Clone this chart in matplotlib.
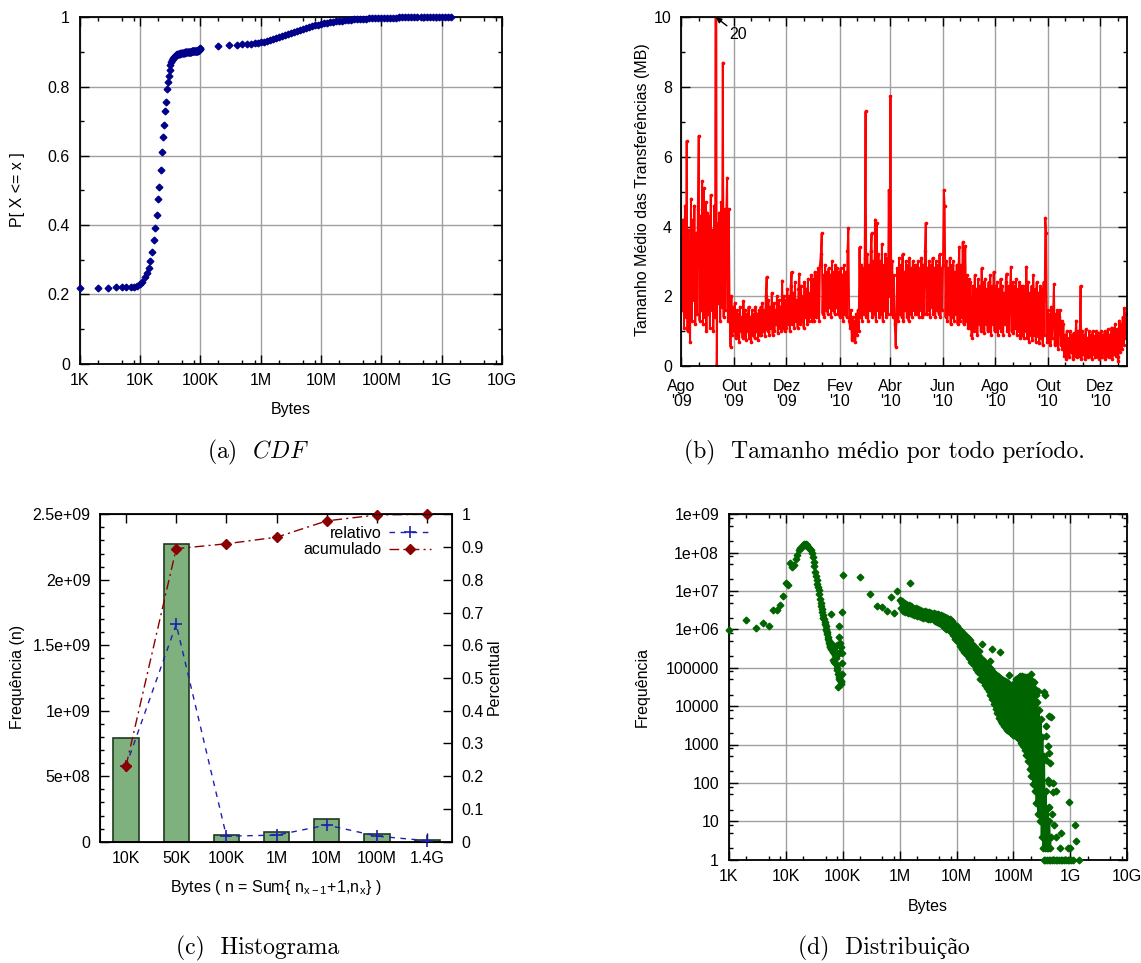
import numpy as np
import pandas as pd
import matplotlib
matplotlib.use('Agg')
import matplotlib.pyplot as plt
import matplotlib.dates as mdates
from matplotlib.ticker import LogLocator, MultipleLocator, NullFormatter, FixedLocator
from datetime import date

# ---------------- (a) CDF ----------------
cdf_kb = list(range(1, 101))          # bins de 1K em 1K ate 100K
cdf_ate_100k = [
    0.219, 0.219, 0.219, 0.220, 0.220, 0.221, 0.221, 0.222, 0.224, 0.229,
    0.236, 0.250, 0.262, 0.276, 0.295, 0.322, 0.356, 0.391, 0.428, 0.475,
    0.511, 0.560, 0.611, 0.653, 0.689, 0.728, 0.755, 0.792, 0.814, 0.831,
    0.849, 0.862, 0.870, 0.876, 0.880, 0.883, 0.886, 0.888, 0.890, 0.891,
    0.892, 0.893, 0.894, 0.894, 0.895, 0.895, 0.896, 0.896, 0.897, 0.897,
    0.897, 0.898, 0.898, 0.898, 0.898, 0.899, 0.899, 0.899, 0.899, 0.899,
    0.900, 0.900, 0.900, 0.900, 0.901, 0.901, 0.901, 0.901, 0.901, 0.901,
    0.901, 0.902, 0.902, 0.902, 0.902, 0.902, 0.902, 0.902, 0.903, 0.903,
    0.903, 0.903, 0.903, 0.903, 0.903, 0.903, 0.904, 0.904, 0.904, 0.904,
    0.904, 0.905, 0.905, 0.905, 0.905, 0.906, 0.906, 0.907, 0.908, 0.912,
]
cdf_meio_bytes = [2e5, 3e5, 4e5, 5e5, 6e5, 7e5, 8e5, 9e5]
cdf_meio = [0.918, 0.920, 0.921, 0.922, 0.923, 0.924, 0.925, 0.926]
cdf_alto_log = [
    6.00, 6.05, 6.10, 6.15, 6.20, 6.25, 6.30, 6.35, 6.40, 6.45,
    6.50, 6.55, 6.60, 6.65, 6.70, 6.75, 6.80, 6.85, 6.90, 6.95,
    7.00, 7.05, 7.10, 7.15, 7.20, 7.25, 7.30, 7.35, 7.40, 7.45,
    7.50, 7.55, 7.60, 7.65, 7.70, 7.75, 7.80, 7.85, 7.90, 7.95,
    8.00, 8.05, 8.10, 8.15, 8.20, 8.25, 8.30, 8.35, 8.40, 8.45,
    8.50, 8.55, 8.60, 8.65, 8.70, 8.75, 8.80, 8.85, 8.90, 8.95,
    9.00, 9.05, 9.10, 9.15,
]
cdf_alto = [
    0.929, 0.930, 0.932, 0.935, 0.938, 0.940, 0.942, 0.945, 0.948, 0.951,
    0.954, 0.957, 0.960, 0.963, 0.966, 0.969, 0.972, 0.975, 0.977, 0.979,
    0.981, 0.983, 0.984, 0.986, 0.987, 0.988, 0.989, 0.990, 0.991, 0.992,
    0.993, 0.994, 0.995, 0.995, 0.996, 0.996, 0.997, 0.997, 0.998, 0.998,
    0.998, 0.999, 0.999, 0.999, 0.999, 0.999, 1.000, 1.000, 1.000, 1.000,
    1.000, 1.000, 1.000, 1.000, 1.000, 1.000, 1.000, 1.000, 1.000, 1.000,
    1.000, 1.000, 1.000, 1.000,
]

# ---------------- (b) tamanho medio diario (MB) ----------------
ago09 = [3.7, 1.6, 4.2, 1.1, 4.6, 1.4, 6.45, 1.0, 3.9, 1.5, 0.7, 4.8, 1.3, 4.2, 1.9, 4.6,
         1.2, 3.8, 1.5, 4.5, 6.6, 1.3, 4.3, 1.6, 5.3, 1.2, 5.1, 1.4, 4.7, 1.0, 4.4]
set09 = [1.5, 4.3, 1.1, 4.9, 1.6, 3.9, 1.0, 4.6, 1.4, 20.0, 0.0, 4.1, 1.8, 4.4, 1.3,
         4.7, 1.7, 8.7, 1.4, 4.5, 1.6, 4.3, 5.4, 1.3, 4.5, 1.5, 0.55, 2.0, 0.9, 1.7]
out09 = [1.0, 1.8, 0.8, 1.6, 0.9, 1.5, 0.7, 1.7, 1.0, 1.4, 0.8, 1.85, 0.9, 1.6, 0.75, 1.5,
         1.0, 1.7, 0.8, 1.4, 0.7, 1.6, 0.9, 1.5, 0.8, 1.7, 1.0, 1.5, 0.75, 1.6, 0.9]
nov09 = [1.7, 0.9, 1.8, 1.0, 1.6, 0.85, 2.0, 2.55, 1.0, 1.9, 0.9, 1.7, 1.1, 2.1, 0.9,
         1.8, 1.0, 1.6, 1.2, 2.0, 0.95, 1.9, 1.1, 1.7, 1.0, 2.45, 1.1, 2.0, 1.0, 1.9]
dez09 = [1.1, 2.2, 1.2, 2.0, 1.0, 2.3, 2.7, 1.2, 2.1, 1.1, 2.4, 1.3, 1.9, 1.1, 2.2, 2.65,
         1.2, 2.3, 1.3, 2.0, 1.1, 2.4, 1.4, 2.2, 1.2, 2.5, 1.3, 2.1, 1.4, 2.6, 1.3]
jan10 = [2.5, 1.3, 2.7, 1.4, 2.6, 1.5, 2.8, 1.3, 2.9, 3.2, 3.8, 1.5, 2.6, 1.4, 2.9, 1.6,
         2.7, 1.5, 2.8, 1.7, 2.6, 1.4, 3.0, 1.6, 2.7, 1.5, 2.9, 1.7, 2.8, 1.5, 2.7]
fev10 = [1.4, 2.8, 1.5, 2.6, 1.3, 2.9, 1.5, 2.7, 1.4, 3.3, 3.95, 1.3, 1.1, 1.6, 0.75,
         1.4, 0.8, 1.3, 0.7, 1.5, 0.9, 1.6, 1.0, 3.4, 1.4, 2.9, 1.3, 2.8]
mar10 = [1.5, 3.1, 7.3, 1.4, 3.2, 1.3, 2.9, 1.6, 3.3, 3.8, 1.4, 3.0, 1.5, 4.2, 1.3, 4.1,
         1.6, 3.2, 1.4, 3.0, 1.5, 3.5, 1.3, 2.9, 1.6, 3.2, 1.4, 3.1, 1.5, 5.05, 2.0]
abr10 = [7.75, 1.5, 3.0, 1.4, 2.6, 1.2, 0.55, 1.4, 2.8, 1.3, 3.1, 1.5, 2.9, 1.4, 3.2,
         1.3, 2.7, 1.6, 3.0, 1.4, 2.9, 1.3, 3.1, 1.5, 2.8, 1.4, 3.0, 1.6, 2.9, 1.5]
mai10 = [2.9, 1.5, 3.0, 1.4, 2.8, 1.6, 3.1, 1.4, 2.9, 1.5, 3.3, 4.1, 1.5, 2.8, 1.6, 3.0,
         1.4, 2.9, 1.7, 3.1, 1.5, 2.8, 1.4, 3.0, 1.6, 2.9, 1.5, 3.2, 1.4, 2.8, 1.6]
jun10 = [2.9, 5.05, 4.6, 1.4, 3.0, 1.3, 2.8, 1.5, 3.1, 1.2, 2.9, 1.4, 3.0, 1.3, 2.7,
         1.5, 2.9, 1.2, 2.8, 3.4, 1.3, 2.9, 1.4, 3.55, 1.2, 2.8, 3.45, 1.3, 2.6, 1.1]
jul10 = [2.5, 1.1, 2.4, 0.9, 0.8, 2.3, 1.0, 2.6, 1.1, 2.2, 0.9, 2.5, 1.2, 2.3, 1.0, 2.8,
         1.1, 2.4, 0.95, 2.5, 1.2, 2.2, 1.0, 2.4, 1.1, 2.6, 0.9, 2.3, 1.2, 2.7, 1.0]
ago10 = [2.3, 1.0, 2.4, 0.9, 2.2, 1.1, 2.5, 1.0, 2.3, 0.9, 2.1, 1.2, 2.4, 2.65, 1.0, 2.3,
         0.9, 2.2, 2.85, 1.0, 2.4, 0.95, 2.3, 1.1, 2.5, 0.9, 2.2, 1.0, 2.4, 0.8, 2.3]
set10 = [0.9, 2.3, 0.8, 2.2, 1.0, 2.85, 0.8, 2.4, 0.7, 2.1, 0.9, 2.3, 0.75, 2.6, 0.9,
         2.2, 0.7, 2.4, 0.85, 2.1, 0.65, 2.3, 0.8, 2.2, 0.6, 2.4, 0.9, 4.25, 3.8, 0.7]
out10 = [1.6, 0.7, 1.5, 0.6, 1.7, 0.8, 1.4, 2.35, 0.6, 1.5, 0.7, 1.6, 0.5, 1.4, 1.6, 0.6,
         1.3, 0.5, 1.2, 0.3, 0.9, 0.2, 1.0, 0.3, 0.8, 0.25, 1.0, 0.4, 0.9, 0.2, 0.95]
nov10 = [0.3, 0.9, 1.3, 0.25, 1.0, 0.3, 0.9, 2.3, 0.2, 1.0, 0.35, 0.9, 0.2, 1.05, 0.3,
         0.8, 0.25, 1.0, 0.3, 0.9, 0.2, 1.0, 0.35, 0.85, 0.25, 1.0, 0.3, 0.95, 0.2, 0.9]
dez10 = [0.3, 1.0, 0.25, 0.9, 0.35, 1.0, 0.2, 0.95, 0.3, 1.05, 0.25, 0.9, 0.3, 1.1, 0.2,
         1.0, 0.35, 1.2, 0.3, 1.05, 0.25, 0.15, 1.3, 0.4, 1.2, 0.5, 1.4, 0.6, 1.65, 0.8, 1.5]
meses_rotulos = ["Ago\n'09", "Out\n'09", "Dez\n'09", "Fev\n'10", "Abr\n'10",
                 "Jun\n'10", "Ago\n'10", "Out\n'10", "Dez\n'10"]

# ---------------- (c) histograma ----------------
faixas = ['10K', '50K', '100K', '1M', '10M', '100M', '1.4G']
freq_n = [7.9e8, 2.27e9, 5.1e7, 7.1e7, 1.70e8, 5.8e7, 1.0e7]
relativo = [0.231, 0.664, 0.017, 0.020, 0.051, 0.017, 0.003]
acumulado = [0.231, 0.895, 0.910, 0.930, 0.980, 0.998, 1.000]

# ---------------- (d) distribuicao (log10 da frequencia) ----------------
pico_log = [
    5.99, 6.24, 6.04, 6.16, 6.09, 6.50, 6.50, 6.64, 6.87, 7.20,
    7.16, 7.74, 7.62, 7.68, 7.83, 7.95, 8.06, 8.11, 8.15, 8.19,
    8.22, 8.20, 8.23, 8.19, 8.15, 8.11, 8.10, 8.08, 7.98, 7.88,
    7.75, 7.64, 7.50, 7.38, 7.28, 7.18, 7.10, 7.02, 6.92, 6.80,
    6.70, 6.60, 6.52, 6.45, 6.38, 6.30, 6.26, 6.20, 6.14, 6.10,
    6.02, 5.99, 5.93, 5.88, 5.80, 5.75, 5.70, 5.64, 5.60, 5.55,
    5.58, 6.40, 5.50, 5.62, 5.48, 5.52, 5.20, 5.45, 5.40, 5.38,
    5.15, 5.12, 5.44, 5.33, 5.42, 5.30, 5.25, 5.07, 5.00, 5.60,
    4.94, 5.35, 4.85, 4.50, 4.77, 5.81, 6.10, 4.70, 5.64, 4.68,
    5.40, 4.62, 4.58, 5.55, 4.66, 5.12, 5.38, 6.45, 4.85, 7.43,
]
medio_bytes = [2e5, 3e5, 4e5, 5e5, 6e5, 7e5, 8e5, 9e5, 1e6, 1.1e6, 1.2e6, 1.4e6, 1.5e6]
medio_log = [7.37, 6.92, 6.61, 6.58, 6.48, 6.84, 6.44, 7.01, 6.77, 6.68, 6.64, 6.55, 7.21]
nuvem = [
    (6.02, 6.55), (6.04, 6.74), (6.06, 6.48), (6.08, 6.70), (6.10, 6.46),
    (6.12, 6.66), (6.14, 6.44), (6.16, 6.64), (6.18, 6.42), (6.20, 6.60),
    (6.22, 6.40), (6.24, 6.57), (6.26, 6.38), (6.28, 6.55), (6.30, 6.36),
    (6.32, 6.52), (6.34, 6.34), (6.36, 6.51), (6.38, 6.32), (6.40, 6.49),
    (6.42, 6.30), (6.44, 6.48), (6.46, 6.29), (6.48, 6.46), (6.50, 6.28),
    (6.52, 6.45), (6.54, 6.27), (6.56, 6.44), (6.58, 6.26), (6.60, 6.43),
    (6.62, 6.23), (6.64, 6.41), (6.66, 6.20), (6.68, 6.40), (6.70, 6.16),
    (6.72, 6.38), (6.74, 6.12), (6.76, 6.36), (6.78, 6.06), (6.80, 6.32),
    (6.82, 6.02), (6.84, 6.29), (6.86, 5.98), (6.88, 6.26), (6.90, 5.93),
    (6.92, 6.22), (6.94, 5.85), (6.96, 6.15), (6.98, 5.76), (7.00, 6.10),
    (7.02, 5.66), (7.04, 6.02), (7.06, 5.56), (7.08, 5.96), (7.10, 5.48),
    (7.12, 5.90), (7.14, 5.40), (7.16, 5.84), (7.18, 5.33), (7.20, 5.78),
    (7.22, 5.25), (7.24, 5.72), (7.26, 5.16), (7.28, 5.62), (7.30, 5.06),
    (7.32, 5.54), (7.34, 4.96), (7.36, 5.46), (7.38, 4.88), (7.40, 5.30),
    (7.415, 4.72), (7.430, 5.24), (7.445, 4.68), (7.460, 5.20), (7.475, 4.62),
    (7.490, 5.16), (7.505, 4.56), (7.520, 5.10), (7.535, 4.48), (7.550, 5.05),
    (7.565, 4.40), (7.580, 5.00), (7.595, 4.30), (7.610, 4.96), (7.625, 4.18),
    (7.640, 4.90), (7.655, 4.05), (7.670, 4.85), (7.685, 3.92), (7.700, 4.82),
    (7.715, 3.82), (7.730, 4.78), (7.745, 3.70), (7.760, 4.74), (7.775, 3.62),
    (7.790, 4.72), (7.805, 3.55), (7.820, 4.68), (7.835, 3.48), (7.850, 4.66),
    (7.865, 3.42), (7.880, 4.62), (7.895, 3.38), (7.910, 4.58), (7.925, 3.34),
    (7.940, 4.54), (7.955, 3.30), (7.970, 4.48), (7.985, 3.26), (8.000, 4.55),
    (8.015, 3.24), (8.030, 4.64), (8.045, 3.21), (8.060, 4.72), (8.075, 3.18),
    (8.090, 4.76), (8.105, 3.14), (8.120, 4.78), (8.135, 3.05), (8.150, 4.78),
    (8.165, 2.95), (8.180, 4.77), (8.195, 2.85), (8.210, 4.76), (8.225, 2.72),
    (8.240, 4.75), (8.255, 2.58), (8.270, 4.74), (8.285, 2.36), (8.300, 4.68),
    (8.315, 2.18), (8.330, 4.58), (8.345, 1.98), (8.360, 4.46), (8.375, 1.78),
    (8.390, 4.30), (8.405, 1.48), (8.420, 4.10), (8.435, 1.20), (8.450, 3.90),
    (8.465, 1.00), (8.480, 3.66), (8.495, 0.60), (8.510, 3.20), (8.525, 0.30),
    (8.540, 2.70), (8.555, 0.30), (8.570, 1.80), (8.585, 0.30), (8.600, 1.35),
    (8.615, 0.30), (8.630, 1.00), (8.645, 0.30), (8.660, 0.60),
]
fora_lx = [7.45, 7.63, 7.77, 7.58, 7.40, 7.93, 8.05, 8.31, 8.36, 8.44, 8.53, 8.55,
           8.63, 8.66, 8.58, 8.57, 8.60, 8.62, 8.65, 8.57, 8.69, 8.60, 8.63, 8.70,
           8.74, 8.62, 8.74, 8.84, 8.97, 9.08, 9.10, 8.82, 8.95, 9.00, 8.68, 8.72]
fora_ly = [5.61, 5.48, 5.41, 5.17, 5.43, 4.80, 4.72, 4.84, 4.62, 4.40, 4.36, 4.30,
           3.75, 3.72, 3.47, 3.22, 2.96, 2.78, 2.51, 2.60, 1.99, 2.08, 2.00, 1.75,
           1.78, 1.38, 0.60, 0.70, 1.49, 0.91, 0.48, 0.30, 0.30, 0.30, 1.20, 0.90]
uns_lx = [8.53, 8.56, 8.59, 8.62, 8.65, 8.68, 8.71, 8.74, 8.77, 8.80, 8.83, 8.86,
          8.89, 8.92, 8.95, 8.98, 9.01, 9.04, 9.15]

bytes_rotulos = ['1K', '10K', '100K', '1M', '10M', '100M', '1G', '10G']

W, H = 1141, 963
plt.rcParams['font.family'] = ['Liberation Sans', 'DejaVu Sans']
plt.rcParams['font.size'] = 11.5
plt.rcParams['mathtext.fontset'] = 'cm'

fig = plt.figure(figsize=(W / 100, H / 100), dpi=100)


def eixo(esq, topo, dir, base):
    return fig.add_axes([esq / W, 1 - base / H, (dir - esq) / W, (base - topo) / H])


def texto(x, y, s, **kw):
    fig.text(x / W, 1 - y / H, s, ha='center', va='center', **kw)


def estilo(ax, grade=True):
    for s in ax.spines.values():
        s.set_linewidth(1.3)
    ax.tick_params(which='both', direction='in', top=True, right=True, width=1.0, pad=7)
    ax.tick_params(which='major', length=6.5)
    ax.tick_params(which='minor', length=3.2)
    if grade:
        ax.grid(True, which='major', color='#a0a0a0', lw=1.0)
        ax.set_axisbelow(True)


def eixo_bytes(ax):
    ax.set_xscale('log')
    ax.set_xlim(1e3, 1e10)
    ax.set_xticks(10.0 ** np.arange(3, 11), bytes_rotulos)
    ax.xaxis.set_minor_locator(LogLocator(base=10, subs=(2, 5, 8)))
    ax.xaxis.set_minor_formatter(NullFormatter())


legenda_serif = ['cmr10', 'Liberation Serif']

# (a)
azul = '#00008b'
ax = eixo(79.5, 17.3, 502, 363.5)
estilo(ax)
pts = dict(ls='none', marker='D', ms=3.4, color=azul, mec=azul, clip_on=False, zorder=3)
ax.plot(np.array(cdf_kb) * 1e3, cdf_ate_100k, **pts)
ax.plot(cdf_meio_bytes, cdf_meio, **pts)
ax.plot(10 ** np.array(cdf_alto_log), cdf_alto, **pts)
eixo_bytes(ax)
ax.set_ylim(0, 1)
ax.set_yticks([0, 0.2, 0.4, 0.6, 0.8, 1], ['0', '0.2', '0.4', '0.6', '0.8', '1'])
ax.yaxis.set_minor_locator(MultipleLocator(0.1))
texto(18, 190, 'P[ X <= x ]', rotation=90)
texto(291, 409, 'Bytes')
texto(258, 452, r'(a)  $\mathit{CDF}$', family=legenda_serif, size=17)

# (b)
media_mb = (ago09 + set09 + out09 + nov09 + dez09 + jan10 + fev10 + mar10 + abr10
            + mai10 + jun10 + jul10 + ago10 + set10 + out10 + nov10 + dez10)
datas = pd.date_range('2009-08-01', periods=len(media_mb), freq='D')
ax = eixo(681.5, 17.3, 1127, 366)
estilo(ax)
ax.plot(datas, media_mb, color='#ff0000', lw=1.4, marker='.', ms=3.2)
ax.set_xlim(date(2009, 8, 1), date(2011, 1, 1))
ax.set_ylim(0, 10)
marcos = [date(2009, 8, 1), date(2009, 10, 1), date(2009, 12, 1), date(2010, 2, 1),
          date(2010, 4, 1), date(2010, 6, 1), date(2010, 8, 1), date(2010, 10, 1),
          date(2010, 12, 1), date(2011, 2, 1)]
num = mdates.date2num(marcos)
ax.set_xticks(num[:-1], meses_rotulos)
menores = [a + (b - a) * k / 3 for a, b in zip(num[:-1], num[1:]) for k in (1, 2)]
ax.xaxis.set_minor_locator(FixedLocator([m for m in menores if m < mdates.date2num(date(2011, 1, 1))]))
ax.tick_params(axis='x', pad=9)
for t in ax.get_xticklabels():
    t.set_linespacing(1.05)
ax.set_yticks([0, 2, 4, 6, 8, 10])
ax.yaxis.set_minor_locator(MultipleLocator(1))
ax.annotate('20', xy=(mdates.date2num(date(2009, 9, 10)), 10),
            xytext=(mdates.date2num(date(2009, 9, 26)), 9.5), ha='left', va='center',
            arrowprops=dict(arrowstyle='-|>', color='black', lw=1.0, mutation_scale=8,
                            shrinkA=0, shrinkB=0))
texto(642, 190, 'Tamanho Médio das Transferências (MB)', rotation=90)
texto(884, 452, '(b)  Tamanho médio por todo período.', family=legenda_serif, size=17)

# (c)
pos = np.arange(len(faixas))
ax = eixo(100.4, 514.3, 451.8, 841.7)
for s in ax.spines.values():
    s.set_linewidth(1.3)
ax.bar(pos, freq_n, width=0.5, color='#7fb17f', edgecolor='#203a20', lw=1.2, zorder=2)
ax.set_xlim(-0.51, 6.49)
ax.set_ylim(0, 2.5e9)
ax.set_xticks(pos, faixas)
ax.set_yticks([0, 5e8, 1e9, 1.5e9, 2e9, 2.5e9],
              ['0', '5e+08', '1e+09', '1.5e+09', '2e+09', '2.5e+09'])
ax.yaxis.set_minor_locator(MultipleLocator(1e8))
ax.tick_params(which='both', direction='in', top=True, right=False, width=1.0, pad=7)
ax.tick_params(which='major', length=6.5)
ax.tick_params(which='minor', length=3.2)
ax2 = ax.twinx()
ax2.set_ylim(0, 1)
ax2.set_yticks(np.arange(11) / 10, ['0'] + ['0.%d' % i for i in range(1, 10)] + ['1'])
ax2.tick_params(direction='in', length=6.5, width=1.0, pad=7)
ax2.plot(pos, relativo, color='#2020b0', ls=(0, (4, 4)), lw=1.0, marker='+', ms=8,
         mew=1.2, label='relativo', clip_on=False)
ax2.plot(pos, acumulado, color='#8b0000', ls=(0, (7, 3, 1.5, 3)), lw=1.0, marker='D',
         ms=5, label='acumulado', clip_on=False)
ax2.legend(loc='upper right', bbox_to_anchor=(0.94, 0.965), frameon=False, markerfirst=False,
           handlelength=2.6, handletextpad=0.5, labelspacing=0.1, borderpad=0,
           borderaxespad=0, fontsize=11.5)
texto(18, 677, 'Frequência (n)', rotation=90)
texto(494, 677, 'Percentual', rotation=90)
texto(276, 887, r'Bytes ( n = Sum{ n$_{\mathregular{x-1}}$+1,n$_{\mathregular{x}}$} )')
texto(258, 948, '(c)  Histograma', family=legenda_serif, size=17)

# (d)
verde = '#006400'
ax = eixo(728.8, 514.3, 1127.3, 859.6)
estilo(ax)
eixo_bytes(ax)
ax.set_yscale('log')
ax.set_ylim(1, 1e9)
ax.set_yticks(10.0 ** np.arange(10), ['1', '10', '100', '1000', '10000', '100000',
                                      '1e+06', '1e+07', '1e+08', '1e+09'])
ax.yaxis.set_minor_locator(LogLocator(base=10, subs=(2, 5, 8)))
ax.yaxis.set_minor_formatter(NullFormatter())
pts = dict(ls='none', marker='D', ms=3.4, color=verde, mec=verde, clip_on=False, zorder=3)
nuvem_lx, nuvem_ly = zip(*nuvem)
ax.plot(10 ** np.array(nuvem_lx), 10 ** np.array(nuvem_ly), color=verde, lw=1.3,
        marker='D', ms=3.4, clip_on=False, zorder=3)
ax.plot(np.array(cdf_kb) * 1e3, 10 ** np.array(pico_log), **pts)
ax.plot(medio_bytes, 10 ** np.array(medio_log), **pts)
ax.plot(10 ** np.array(fora_lx), 10 ** np.array(fora_ly), **pts)
ax.plot(10 ** np.array(uns_lx), np.ones(len(uns_lx)), **pts)
texto(642, 687, 'Frequência', rotation=90)
texto(928, 906, 'Bytes')
texto(884, 948, '(d)  Distribuição', family=legenda_serif, size=17)

fig.savefig('out.png', dpi=100)
